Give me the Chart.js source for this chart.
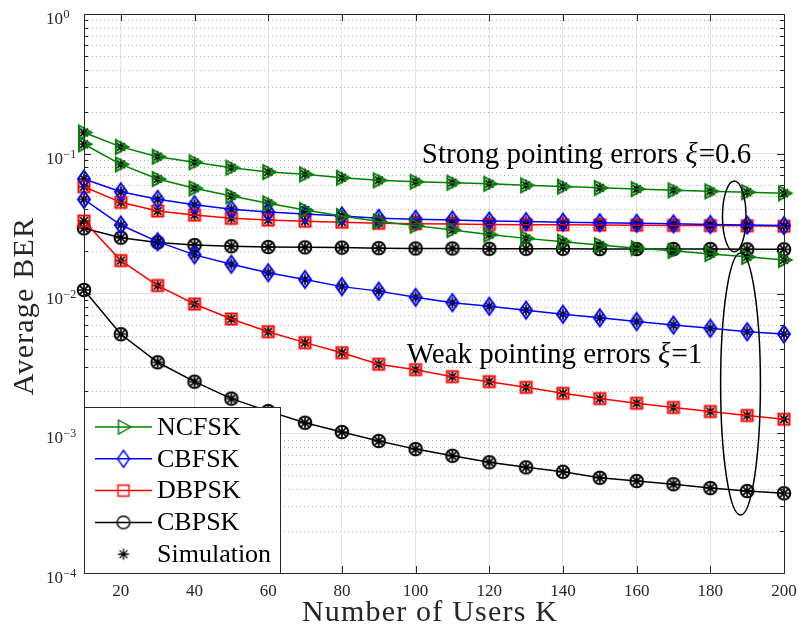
<!DOCTYPE html>
<html>
<head>
<meta charset="utf-8">
<script src="https://cdn.jsdelivr.net/npm/chart.js@4.4.0/dist/chart.umd.min.js"></script>
<style>
  html, body { margin: 0; padding: 0; background: #fff; }
  #wrap { width: 798px; height: 625px; position: relative; }
</style>
</head>
<body>
<div id="wrap"><canvas id="chart"></canvas></div>
<script>
// number of users K
const usersK = [10, 20, 30, 40, 50, 60, 70, 80, 90, 100, 110, 120, 130, 140, 150, 160, 170, 180, 190, 200];

// strong pointing errors (xi = 0.6)
const ncfskStrong = [0.142, 0.112, 0.0953, 0.0869, 0.0795, 0.0740, 0.0713, 0.0674, 0.0646, 0.0631, 0.0621, 0.0610, 0.0595, 0.0582, 0.0570, 0.0559, 0.0548, 0.0539, 0.0531, 0.0522];
const cbfskStrong = [0.0660, 0.0535, 0.0472, 0.0432, 0.0400, 0.0383, 0.0370, 0.0359, 0.0345, 0.0340, 0.0336, 0.0330, 0.0327, 0.0324, 0.0321, 0.0318, 0.0315, 0.0312, 0.0309, 0.0306];
const dbpskStrong = [0.0581, 0.0449, 0.0389, 0.0364, 0.0345, 0.0336, 0.0329, 0.0324, 0.0318, 0.0316, 0.0314, 0.0312, 0.0311, 0.0310, 0.0309, 0.0308, 0.0307, 0.0306, 0.0305, 0.0303];
const cbpskStrong = [0.0293, 0.0251, 0.0232, 0.0222, 0.0218, 0.0215, 0.0214, 0.0213, 0.0211, 0.0210, 0.0210, 0.0209, 0.0209, 0.0209, 0.0208, 0.0208, 0.0208, 0.0208, 0.0207, 0.0207];

// weak pointing errors (xi = 1)
const ncfskWeak = [0.117, 0.0840, 0.0660, 0.0566, 0.0498, 0.0442, 0.0396, 0.0359, 0.0328, 0.0306, 0.0285, 0.0264, 0.0248, 0.0235, 0.0222, 0.0211, 0.0202, 0.0192, 0.0183, 0.0174];
const cbfskWeak = [0.0472, 0.0309, 0.0235, 0.0189, 0.0162, 0.0141, 0.0126, 0.0112, 0.0104, 0.0094, 0.0086, 0.0081, 0.0076, 0.0071, 0.0067, 0.0063, 0.00595, 0.00564, 0.00533, 0.00513];
const dbpskWeak = [0.0330, 0.0172, 0.0114, 0.00841, 0.00657, 0.00533, 0.00445, 0.00377, 0.00312, 0.00285, 0.00254, 0.00234, 0.00213, 0.00193, 0.00177, 0.00164, 0.00153, 0.00143, 0.00134, 0.00126];
const cbpskWeak = [0.0106, 0.00511, 0.00322, 0.00234, 0.00177, 0.00144, 0.00119, 0.00102, 0.00088, 0.00077, 0.00069, 0.00062, 0.00057, 0.00053, 0.00048, 0.000455, 0.000432, 0.000405, 0.000386, 0.000372];

// axis ticks
const xTicks = [20, 40, 60, 80, 100, 120, 140, 160, 180, 200];
const yDecades = [-4, -3, -2, -1, 0];

// annotations (data coords)
const ellipses = [
  { x: 186.5, yTop: 0.0638, yBottom: 0.0199, halfWidth: 3.2 },
  { x: 188.2, yTop: 0.0195, yBottom: 0.00026, halfWidth: 5.4 }
];
const notes = [
  { x: 101.7, y: 0.0859, before: 'Strong pointing errors ', sym: 'ξ', after: '=0.6' },
  { x: 97.6, y: 0.0032, before: 'Weak pointing errors ', sym: 'ξ', after: '=1' }
];

const SERIF = '"Liberation Serif", "Times New Roman", serif';
const AXIS_COLOR = '#262626';

function makeMarker(kind, color, lw) {
  const c = document.createElement('canvas');
  c.width = 22; c.height = 22;
  const g = c.getContext('2d');
  const m = 11;
  g.strokeStyle = color;
  g.lineWidth = lw;
  g.beginPath();
  if (kind === 'tri') {
    g.moveTo(m - 5, m - 7); g.lineTo(m + 7.5, m); g.lineTo(m - 5, m + 7); g.closePath();
  } else if (kind === 'diamond') {
    g.moveTo(m, m - 8.5); g.lineTo(m + 6, m); g.lineTo(m, m + 8.5); g.lineTo(m - 6, m); g.closePath();
  } else if (kind === 'square') {
    g.rect(m - 5.5, m - 5.5, 11, 11);
  } else if (kind === 'circle') {
    g.arc(m, m, 6.3, 0, Math.PI * 2);
  } else if (kind === 'star') {
    const r = 5.5;
    for (let i = 0; i < 4; i++) {
      const a = i * Math.PI / 4;
      g.moveTo(m - r * Math.cos(a), m - r * Math.sin(a));
      g.lineTo(m + r * Math.cos(a), m + r * Math.sin(a));
    }
  }
  g.stroke();
  return c;
}

const styles = {
  NCFSK: { color: '#008000', kind: 'tri' },
  CBFSK: { color: '#0000ff', kind: 'diamond' },
  DBPSK: { color: '#ff0000', kind: 'square' },
  CBPSK: { color: '#000000', kind: 'circle' }
};
Object.values(styles).forEach(s => {
  s.marker = makeMarker(s.kind, s.color, 2);
  s.legendMarker = makeMarker(s.kind, s.color, 1.4);
});
const starMarker = makeMarker('star', '#000000', 1.7);
const starLegend = makeMarker('star', '#000000', 1.3);

const series = [
  ['NCFSK', ncfskStrong], ['NCFSK', ncfskWeak],
  ['CBFSK', cbfskStrong], ['CBFSK', cbfskWeak],
  ['DBPSK', dbpskStrong], ['DBPSK', dbpskWeak],
  ['CBPSK', cbpskStrong], ['CBPSK', cbpskWeak]
];

const toPoints = vals => vals.map((v, i) => ({ x: usersK[i], y: v }));

const datasets = [];
series.forEach(([name, vals]) => {
  datasets.push({
    label: name,
    data: toPoints(vals),
    borderColor: styles[name].color,
    borderWidth: 1.5,
    pointStyle: styles[name].marker,
    pointRadius: 6,
    tension: 0,
    clip: false
  });
});
series.forEach(([name, vals]) => {
  datasets.push({
    label: 'Simulation',
    data: toPoints(vals),
    showLine: false,
    pointStyle: starMarker,
    pointRadius: 5,
    clip: false
  });
});

const isDecade = v => Math.abs(Math.log10(v) - Math.round(Math.log10(v))) < 1e-6;

const matlabAxes = {
  id: 'matlabAxes',
  beforeDatasetsDraw(chart) {
    const { ctx, chartArea: a, scales: { y } } = chart;
    ctx.save();
    ctx.strokeStyle = '#b4b4b4';
    ctx.lineWidth = 1;
    ctx.setLineDash([1, 3]);
    y.ticks.forEach(t => {
      if (isDecade(t.value)) return;
      const py = Math.round(y.getPixelForValue(t.value)) + 0.5;
      ctx.beginPath(); ctx.moveTo(a.left, py); ctx.lineTo(a.right, py); ctx.stroke();
    });
    ctx.restore();
  },
  afterDatasetsDraw(chart) {
    const { ctx, chartArea: a, scales: { x, y } } = chart;
    ctx.save();
    ctx.strokeStyle = AXIS_COLOR;
    ctx.lineWidth = 1;
    ctx.strokeRect(a.left + 0.5, a.top + 0.5, a.right - a.left, a.bottom - a.top);
    ctx.beginPath();
    y.ticks.forEach(t => {
      const py = Math.round(y.getPixelForValue(t.value)) + 0.5;
      const len = isDecade(t.value) ? 7 : 4;
      ctx.moveTo(a.left, py); ctx.lineTo(a.left + len, py);
      ctx.moveTo(a.right, py); ctx.lineTo(a.right - len, py);
    });
    xTicks.forEach(v => {
      const px = Math.round(x.getPixelForValue(v)) + 0.5;
      ctx.moveTo(px, a.bottom); ctx.lineTo(px, a.bottom - 7);
      ctx.moveTo(px, a.top); ctx.lineTo(px, a.top + 7);
    });
    ctx.stroke();

    // tick labels
    ctx.fillStyle = AXIS_COLOR;
    ctx.textBaseline = 'alphabetic';
    ctx.font = '17px ' + SERIF;
    ctx.textAlign = 'center';
    xTicks.forEach(v => ctx.fillText(String(v), x.getPixelForValue(v), a.bottom + 23));
    yDecades.forEach(k => {
      const py = y.getPixelForValue(Math.pow(10, k));
      ctx.font = '17px ' + SERIF;
      ctx.textAlign = 'left';
      ctx.fillText('10', 46, py + 10);
      ctx.font = '12px ' + SERIF;
      ctx.fillText(k < 0 ? '\u2212' + (-k) : String(k), 63.5, py + 4);
    });

    // axis titles
    ctx.font = '30px ' + SERIF;
    ctx.letterSpacing = '1.2px';
    ctx.textAlign = 'center';
    ctx.fillText('Number of Users K', 430, 621);
    ctx.translate(33, 306);
    ctx.rotate(-Math.PI / 2);
    ctx.fillText('Average BER', 0, 0);
    ctx.restore();

    // annotations
    ctx.save();
    ctx.strokeStyle = '#000';
    ctx.lineWidth = 1.5;
    ellipses.forEach(e => {
      const cx = x.getPixelForValue(e.x);
      const top = y.getPixelForValue(e.yTop);
      const bot = y.getPixelForValue(e.yBottom);
      const rx = x.getPixelForValue(e.x + e.halfWidth) - cx;
      ctx.beginPath();
      ctx.ellipse(cx, (top + bot) / 2, rx, (bot - top) / 2, 0, 0, Math.PI * 2);
      ctx.stroke();
    });
    ctx.fillStyle = '#000';
    ctx.textAlign = 'left';
    ctx.textBaseline = 'alphabetic';
    notes.forEach(n => {
      let px = x.getPixelForValue(n.x);
      const py = y.getPixelForValue(n.y);
      ctx.font = '29px ' + SERIF;
      ctx.fillText(n.before, px, py);
      px += ctx.measureText(n.before).width;
      ctx.font = 'italic 29px ' + SERIF;
      ctx.fillText(n.sym, px, py);
      px += ctx.measureText(n.sym).width + 1;
      ctx.font = '29px ' + SERIF;
      ctx.fillText(n.after, px, py);
    });
    ctx.restore();
  },
  afterDraw(chart) {
    const { ctx, chartArea: a } = chart;
    const box = { left: a.left, top: 407, right: 280, bottom: a.bottom };
    ctx.save();
    ctx.fillStyle = '#fff';
    ctx.fillRect(box.left, box.top, box.right - box.left, box.bottom - box.top);
    ctx.strokeStyle = AXIS_COLOR;
    ctx.lineWidth = 1;
    ctx.strokeRect(box.left + 0.5, box.top + 0.5, box.right - box.left, box.bottom - box.top);
    const entries = [
      ['NCFSK', styles.NCFSK.color, styles.NCFSK.legendMarker],
      ['CBFSK', styles.CBFSK.color, styles.CBFSK.legendMarker],
      ['DBPSK', styles.DBPSK.color, styles.DBPSK.legendMarker],
      ['CBPSK', styles.CBPSK.color, styles.CBPSK.legendMarker],
      ['Simulation', null, starLegend]
    ];
    ctx.font = '26px ' + SERIF;
    ctx.textBaseline = 'middle';
    ctx.textAlign = 'left';
    entries.forEach(([label, color, marker], i) => {
      const cy = 427 + i * 31.8;
      if (color) {
        ctx.strokeStyle = color;
        ctx.lineWidth = 1.5;
        ctx.beginPath(); ctx.moveTo(95, cy); ctx.lineTo(152, cy); ctx.stroke();
      }
      ctx.drawImage(marker, 123.5 - marker.width / 2, cy - marker.height / 2);
      ctx.fillStyle = '#000';
      ctx.fillText(label, 157, cy + 1);
    });
    ctx.restore();
  }
};

new Chart(document.getElementById('chart'), {
  type: 'line',
  data: { datasets },
  options: {
    responsive: true,
    maintainAspectRatio: false,
    animation: false,
    layout: { padding: { left: 0, right: 14, top: 14, bottom: 0 } },
    plugins: { legend: { display: false }, tooltip: { enabled: false } },
    scales: {
      x: {
        type: 'linear',
        min: 10,
        max: 200,
        afterBuildTicks: s => { s.ticks = xTicks.map(v => ({ value: v })); },
        afterFit: s => { s.height = 52; },
        ticks: { display: false },
        grid: { color: '#e3e3e3', drawTicks: false },
        border: { display: false }
      },
      y: {
        type: 'logarithmic',
        min: 1e-4,
        max: 1,
        afterBuildTicks: s => {
          const t = [];
          for (let k = -4; k < 0; k++) {
            for (let m = 1; m < 10; m++) t.push({ value: m * Math.pow(10, k) });
          }
          t.push({ value: 1 });
          s.ticks = t;
        },
        afterFit: s => { s.width = 84; },
        ticks: { display: false },
        grid: {
          drawTicks: false,
          color: c => (c.tick && isDecade(c.tick.value)) ? '#e3e3e3' : 'rgba(0,0,0,0)'
        },
        border: { display: false }
      }
    }
  },
  plugins: [matlabAxes]
});
</script>
</body>
</html>
